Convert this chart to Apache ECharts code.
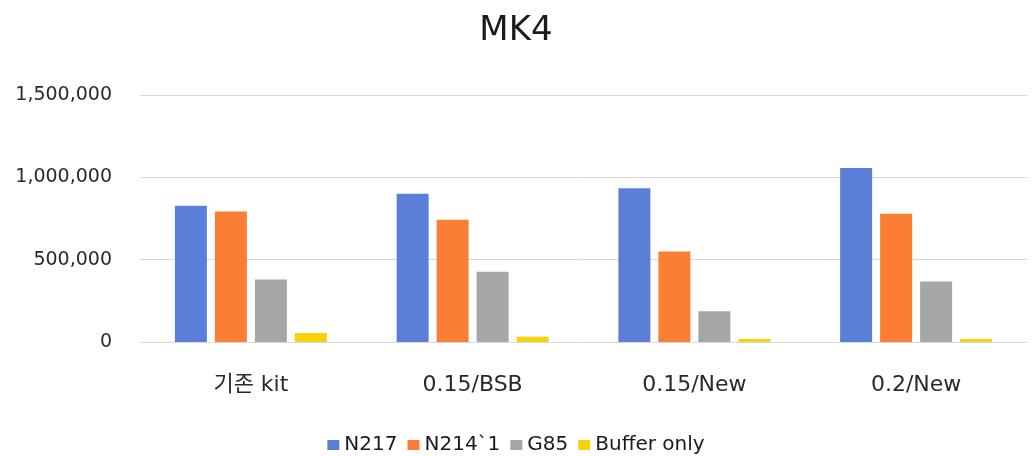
<!DOCTYPE html>
<html><head><meta charset="utf-8">
<script src="https://cdn.jsdelivr.net/npm/echarts@6/dist/echarts.min.js"></script>
<style>html,body{margin:0;padding:0;background:#fff}#c{width:1032px;height:456px}</style>
</head><body><div id="c"></div>
<script>
const categories = ['기존 kit', '0.15/BSB', '0.15/New', '0.2/New'];
const seriesNames = ['N217', 'N214`1', 'G85', 'Buffer only'];
const n217 = [827000, 900000, 934000, 1056000];
const n214 = [793000, 742000, 550000, 779000];
const g85 = [380000, 427000, 186000, 368000];
const buffer = [55000, 32000, 18000, 18000];
const yTicks = [0, 500000, 1000000, 1500000];
const colors = ['#5B7FD9', '#FB7E34', '#A6A6A6', '#F5D20A'];
const font = '"DejaVu Sans", "Noto Sans CJK KR", sans-serif';
const chart = echarts.init(document.getElementById('c'));
const data = [n217, n214, g85, buffer];
chart.setOption({
  animation: false,
  title: { text: 'MK4', left: 'center', top: 9,
    textStyle: { fontFamily: font, fontSize: 34, fontWeight: 'normal', color: '#1a1a1a' } },
  grid: { left: 140, right: 5, top: 95, bottom: 114 },
  legend: { top: 430, left: 'center', itemWidth: 12, itemHeight: 10, itemGap: 10, icon: 'rect',
    textStyle: { fontFamily: font, fontSize: 20, color: '#1a1a1a' } },
  xAxis: { type: 'category', data: categories,
    axisLine: { lineStyle: { color: '#d9d9d9', width: 1 } }, axisTick: { show: false },
    axisLabel: { fontFamily: font, fontSize: 22, color: '#2a2a2a', margin: 32 } },
  yAxis: { type: 'value', min: yTicks[0], max: yTicks[yTicks.length - 1], interval: yTicks[1] - yTicks[0],
    axisLabel: { fontFamily: font, fontSize: 19, color: '#2a2a2a', margin: 28,
      formatter: v => v.toLocaleString('en-US') },
    splitLine: { lineStyle: { color: '#d9d9d9', width: 1 } } },
  series: seriesNames.map((n, i) => ({
    name: n, type: 'bar', data: data[i], barWidth: 32, barGap: '25%',
    itemStyle: { color: colors[i] } }))
});
</script></body></html>
